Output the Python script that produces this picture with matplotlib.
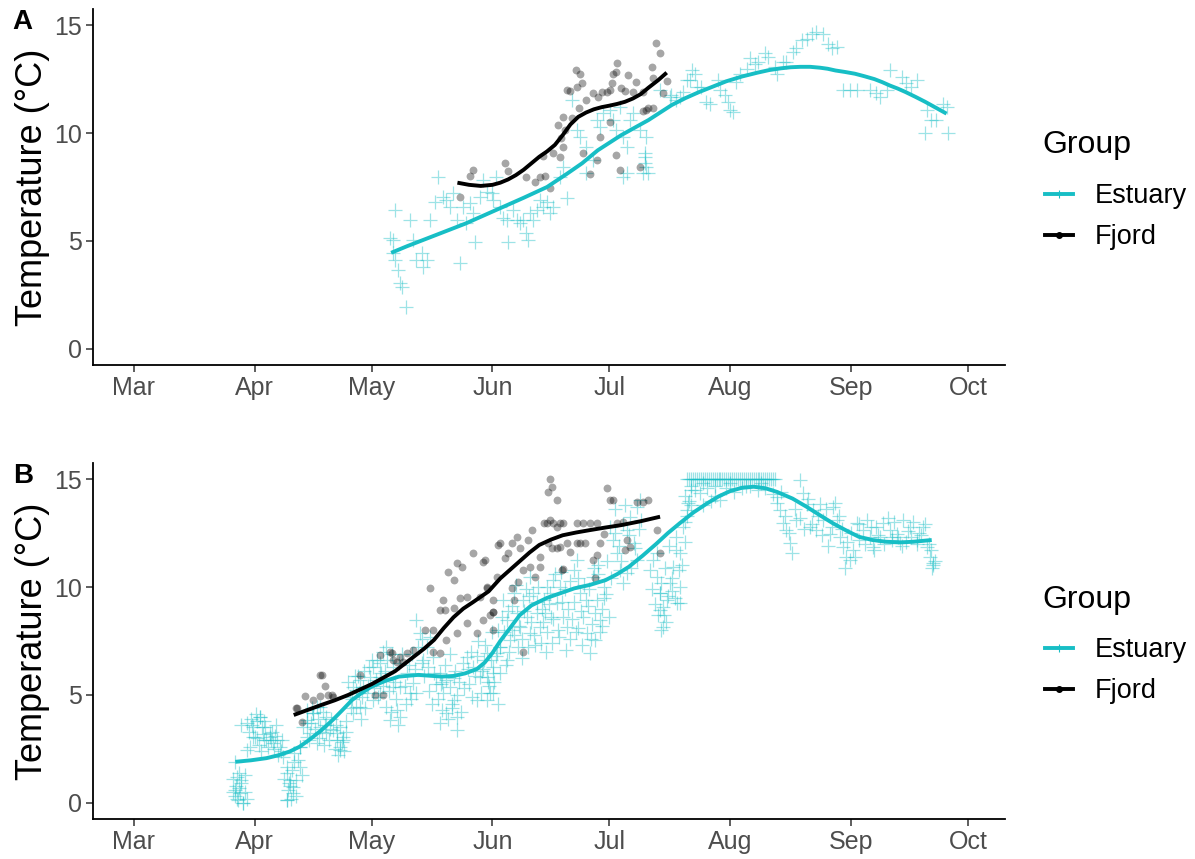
import matplotlib
matplotlib.use("Agg")
import matplotlib.pyplot as plt
from matplotlib.lines import Line2D

plt.rcParams['font.family'] = ['Liberation Sans', 'DejaVu Sans']

# ---------------- data (day of year, temperature °C) ----------------
month_ticks = [60, 91, 121, 152, 182, 213, 244, 274]
month_labels = ["Mar", "Apr", "May", "Jun", "Jul", "Aug", "Sep", "Oct"]
groups = ["Estuary", "Fjord"]

# Panel A - Estuary observations
a_est_day = [125.7, 126.5, 126.5, 126.9, 127.8, 128.2, 128.7, 129.9, 126.9, 130.8, 131.7, 132.5, 133.8, 135.1,
             134.2, 135.9, 137.2, 138.1, 139.4, 140.2, 141.1, 141.9, 143.6, 142.8, 144.5, 146.2, 147.1, 145.3,
             147.5, 148.8, 149.6, 150.5, 151.8, 153.0, 152.2, 153.9, 154.8, 155.6, 156.0, 157.3, 158.2, 159.0,
             159.9, 160.7, 161.2, 161.6, 162.4, 163.3, 164.2, 165.0, 165.9, 166.7, 167.6, 169.3, 170.1, 171.0,
             172.3, 173.6, 174.4, 176.1, 177.8, 176.1, 178.7, 179.6, 180.4, 182.1, 183.0, 183.8, 184.7, 185.5,
             186.4, 187.3, 188.1, 189.8, 191.5, 191.1, 191.5, 190.7, 186.4, 185.5, 195.0, 197.5, 200.1, 202.7,
             203.1, 204.4, 191.1, 191.1, 191.9, 197.9, 199.2, 200.9, 201.8, 203.9, 205.6, 206.9, 207.8, 209.9,
             210.3, 211.6, 212.5, 212.9, 213.8, 214.6, 215.5, 217.2, 218.0, 219.3, 220.2, 221.9, 222.7, 224.4,
             224.9, 226.6, 227.4, 229.2, 230.0, 231.3, 232.6, 233.9, 235.1, 236.8, 238.1, 239.0, 240.3, 242.0,
             243.7, 245.4, 248.8, 250.5, 251.4, 253.1, 254.0, 257.0, 258.2, 259.5, 260.8, 263.4, 264.6, 265.9,
             267.6, 268.5, 262.9, 268.9]
a_est_temp = [5.12, 5.04, 4.43, 4.12, 3.66, 3.04, 2.88, 1.96, 6.43, 5.97, 5.04, 4.12, 4.43, 4.12,
              3.81, 5.97, 6.82, 7.98, 7.05, 6.90, 6.59, 7.21, 3.97, 5.97, 6.59, 6.74, 6.28, 5.82,
              4.97, 7.05, 7.82, 7.28, 7.21, 7.98, 6.90, 6.59, 6.05, 5.97, 4.97, 6.43, 5.97, 5.82,
              5.97, 5.35, 5.04, 6.28, 5.97, 6.43, 6.90, 6.59, 6.82, 6.28, 6.59, 7.98, 8.44, 6.97,
              11.53, 10.14, 9.83, 9.37, 8.75, 8.13, 10.60, 10.29, 10.91, 11.06, 10.60, 10.14, 11.22, 9.83,
              9.37, 10.60, 10.91, 10.14, 9.83, 8.90, 8.44, 8.13, 8.13, 7.98, 11.99, 11.68, 11.68, 12.45,
              12.91, 12.14, 9.06, 8.59, 8.13, 11.76, 11.53, 11.91, 12.45, 12.76, 12.14, 11.45, 11.37, 12.45,
              11.99, 11.76, 11.45, 11.06, 10.99, 12.38, 12.76, 12.99, 13.46, 13.22, 13.30, 13.69, 13.53, 13.07,
              12.76, 13.30, 13.30, 13.76, 13.92, 14.30, 14.38, 14.61, 14.69, 14.61, 14.15, 13.92, 13.99, 11.99,
              11.99, 11.99, 11.99, 11.84, 11.68, 11.99, 12.91, 12.61, 12.30, 12.14, 12.45, 11.06, 10.60, 10.60,
              11.37, 11.22, 9.98, 9.98]

# Panel A - Fjord observations
a_fj_day = [143.6, 146.2, 147.1, 155.2, 156.0, 160.7, 162.9, 164.2, 165.4, 166.7, 165.0, 167.6, 169.3, 170.0,
            168.9, 170.0, 171.0, 172.0, 173.6, 174.4, 173.4, 174.9, 176.1, 177.8, 179.1, 180.0, 181.3, 182.1,
            182.6, 183.0, 183.8, 184.0, 185.1, 186.0, 186.8, 188.1, 188.9, 190.7, 192.8, 193.1, 193.9, 195.0,
            196.8, 191.5, 190.7, 189.8, 183.8, 184.7, 179.6, 177.0, 178.7, 175.3, 174.3, 172.3, 170.6, 169.7,
            182.1, 193.3, 195.8, 192.0]
a_fj_temp = [7.05, 8.01, 8.29, 8.63, 8.25, 7.98, 7.75, 7.98, 8.01, 7.44, 8.93, 9.09, 8.87, 9.37,
             10.37, 10.76, 11.99, 11.96, 12.14, 12.76, 12.91, 12.33, 11.53, 11.84, 11.68, 11.91, 11.91, 11.99,
             12.30, 12.76, 12.84, 13.25, 12.07, 11.96, 12.68, 11.91, 12.38, 11.91, 13.07, 12.53, 14.18, 13.69,
             12.42, 11.09, 11.03, 8.44, 8.98, 8.29, 9.83, 8.10, 8.75, 9.06, 11.14, 10.68, 10.14, 9.75,
             10.52, 11.14, 11.87, 11.14]

# Panel A - smoothed trends
a_est_fit_day = [126, 130, 135, 140, 145, 150, 155, 160, 166, 171, 175, 179, 182, 185, 188.5, 192, 195, 198,
                 201.5, 205, 208.5, 212, 216, 220, 223, 226, 228.5, 231, 233.5, 236, 238, 240, 242.5, 245,
                 247.5, 250, 252, 254, 256, 258, 260.5, 263, 265.5, 268.5]
a_est_fit_temp = [4.45, 4.75, 5.1, 5.45, 5.8, 6.2, 6.6, 7.0, 7.5, 8.1, 8.6, 9.2, 9.55, 9.9, 10.25, 10.6, 10.95,
                  11.3, 11.62, 11.9, 12.15, 12.4, 12.62, 12.8, 12.92, 13.0, 13.05, 13.07, 13.07, 13.03, 12.98,
                  12.9, 12.83, 12.75, 12.63, 12.5, 12.36, 12.2, 12.06, 11.9, 11.68, 11.45, 11.2, 10.9]
a_fj_fit_day = [143, 144.5, 146, 149, 152, 154, 156, 158, 160, 162, 164, 166, 168, 170, 172, 174, 176, 178,
                180, 182, 184, 186, 188, 190, 192, 194.5, 196.7]
a_fj_fit_temp = [7.7, 7.65, 7.6, 7.55, 7.6, 7.7, 7.85, 8.05, 8.3, 8.6, 8.9, 9.15, 9.45, 9.9, 10.4, 10.75,
                 10.95, 11.1, 11.2, 11.27, 11.35, 11.45, 11.6, 11.8, 12.1, 12.45, 12.8]

# Panel B - Estuary observations
b_est_day = [85.5, 86.0, 86.5, 87.0, 87.5, 88.0, 88.5, 86.3, 87.2, 88.1, 86.8, 87.6, 85.9, 88.9, 87.6,
             88.9, 92.3, 93.6, 94.9, 96.6, 90.6, 89.8, 92.3, 92.8, 91.0, 94.0, 95.8, 97.5, 94.9, 91.5,
             99.2, 100.0, 100.9, 99.2, 102.6, 101.7, 99.2, 100.0, 100.9, 99.2, 98.3, 101.0,
             104.3, 106.0, 107.7, 109.4, 105.2, 106.9, 102.6, 103.5, 104.3, 106.0, 107.7, 109.4, 104.3, 102.6, 106.9,
             112.0, 112.9, 113.7, 111.1, 112.0, 112.9, 113.7,
             116.3, 118.0, 119.7, 117.1, 121.4, 120.6, 115.4, 117.1, 118.0, 116.3, 118.8,
             122.3, 124.8, 126.6, 128.3, 127.4, 128.3, 123.1, 121.4, 123.1, 124.8, 126.5, 123.1, 124.8, 125.7,
             130.0, 131.7, 130.8, 132.5, 133.4, 135.1, 136.8, 134.2,
             138.5, 139.4, 140.2, 138.5, 142.0, 142.8, 141.1, 139.0, 141.5, 143.0,
             145.4, 147.1, 148.8, 150.5, 152.2, 147.9, 152.2, 153.9, 146.0, 149.5, 151.0,
             149.7, 150.5, 151.4, 152.2, 153.1, 150.5,
             154.8, 155.6, 157.4, 158.2, 156.5, 159.1, 159.9, 153.9, 155.6, 157.0, 158.5,
             161.6, 162.5, 163.3, 164.2, 165.1, 160.8, 165.9, 161.6, 163.0, 164.8,
             166.8, 168.5, 170.2, 171.0, 167.6, 169.3, 167.0, 169.8,
             172.8, 174.5, 175.3, 176.2, 177.0, 173.6, 174.0, 176.0,
             177.9, 178.7, 179.6, 178.3, 180.5, 179.0, 180.0,
             182.2, 183.0, 183.9, 184.7, 185.6, 186.4, 187.3, 189.0, 188.2, 189.0, 186.4, 189.9, 183.5, 185.0,
             193.3, 194.1, 195.0, 195.0, 195.8, 196.7, 197.6, 198.4, 200.1, 200.1, 201.0, 199.3, 200.1,
             194.9, 195.8, 199.2, 201.8, 194.5, 196.5, 198.0,
             202.5, 203.5, 204.5, 205.5, 206.5, 207.5, 208.5, 209.5, 210.5, 211.5, 212.5, 213.5, 214.5,
             215.5, 216.5, 217.5, 218.5, 219.5, 220.5, 221.5, 222.5, 223.5, 224.5,
             203.0, 205.2, 207.0, 209.0, 210.3, 212.0, 214.0, 216.0, 218.0, 220.0, 222.0, 224.0,
             202.2, 204.0, 206.0, 208.0,
             224.9, 225.7, 226.6, 227.4, 228.3, 230.9, 231.7, 230.0,
             232.6, 234.3, 236.0, 236.9, 233.4, 235.1,
             239.4, 240.3, 241.1, 242.0, 242.8, 243.7, 238.6,
             245.4, 247.1, 248.8, 250.5, 252.2, 253.9, 255.7, 257.4, 259.1, 260.8, 262.5, 263.4, 264.2, 265.1,
             256.5, 249.7, 244.5, 246.0, 251.0, 254.5, 258.0, 261.5,
             86.0, 86.5, 87.0, 88.5, 89.0, 85.5, 89.5, 90.0, 90.5, 91.5, 92.0, 93.0, 93.5, 94.5, 95.5, 96.0,
             97.0, 98.0, 96.5,
             99.5, 100.5, 101.5, 102.0, 103.0, 101.0,
             104.5, 105.5, 106.5, 107.5, 108.5, 109.0, 110.0, 110.5, 111.5, 113.0, 114.0, 114.5,
             115.0, 116.0, 117.5, 118.5, 119.0, 120.0, 121.0, 122.0, 123.5, 124.0, 125.0, 125.5, 126.0, 127.0,
             128.0, 127.8,
             129.5, 130.5, 131.0, 132.0, 133.0, 134.0, 134.5, 135.5, 136.0, 137.0, 137.5, 138.0, 139.0, 140.0,
             140.5, 141.5, 142.5, 143.5, 144.0, 144.5,
             146.5, 147.5, 148.0, 149.0, 150.0, 151.5, 152.5, 153.5, 154.0, 155.0, 156.0, 157.5, 158.0, 159.5,
             160.5, 161.0, 162.0, 163.5, 164.5, 165.5,
             166.0, 167.5, 168.0, 169.0, 170.5, 171.5, 172.0, 173.0, 174.0, 175.0, 176.5, 177.5, 178.0, 179.5,
             180.5, 181.5, 182.5, 183.5, 184.5, 185.5, 186.0, 187.0, 187.5, 188.5, 189.5, 190.0,
             192.5, 193.0, 193.8, 194.3, 195.3, 196.0, 196.2, 197.0, 197.2, 198.0, 198.8, 199.0, 199.8, 200.5,
             201.3, 201.5, 195.2,
             202.0, 203.0, 204.0, 205.0, 206.0, 207.0, 208.0, 209.0, 210.0, 211.0, 212.0, 213.0, 214.0, 215.0,
             216.0, 217.0, 218.0, 219.0, 220.0, 221.0, 222.0, 223.0, 224.0,
             203.0, 206.0, 209.0, 213.0, 217.0, 221.0, 201.5, 202.0, 202.5, 203.0,
             225.0, 226.0, 227.0, 228.0, 228.8, 229.5, 231.0, 232.0, 233.0, 234.0, 235.5, 236.5, 237.5, 238.0,
             239.0, 240.0, 241.0, 241.8, 242.5, 243.0, 244.0, 245.0, 246.0, 247.5, 248.0, 249.0, 250.0, 251.5,
             252.5, 253.5, 254.5, 255.0, 256.0, 257.0, 258.5, 259.5, 260.0, 261.0, 262.0, 263.0, 264.0, 264.5,
             265.5, 265.0, 264.8,
             128.8, 129.8, 131.3, 132.3, 133.8, 135.8, 136.5, 138.8, 139.8, 141.0, 142.0, 143.0, 144.8, 145.8,
             146.8, 148.3, 149.3, 150.8, 151.8, 152.8, 153.3, 154.5, 155.4, 156.3, 157.0, 158.8, 159.7, 160.2,
             161.4, 162.7, 163.8, 164.9, 165.7, 166.5, 167.2, 168.7, 169.6, 170.8, 171.8, 172.5, 173.4, 174.8,
             175.6, 176.8, 177.3, 178.4, 179.2, 180.2, 181.0, 181.8,
             90.2, 91.2, 92.6, 93.3, 95.2, 96.3, 97.8, 98.6, 99.8, 100.3, 104.8, 105.8, 107.2, 108.2, 108.8,
             110.3, 111.8, 112.4, 113.3, 114.3, 115.7, 116.7, 117.8, 118.2, 119.4, 120.3, 121.7, 122.7, 123.8,
             124.4, 126.3, 127.2]
b_est_temp = [1.1, 0.6, 0.2, 1.4, 0.9, 0.0, 0.5, 0.76, 0.45, -0.02, 0.14, 1.07, 1.9, 2.45, 3.6,
              3.69, 4.00, 3.53, 3.07, 2.92, 3.07, 2.61, 3.99, 3.53, 3.07, 2.91, 2.76, 2.60, 3.22, 3.8,
              1.37, 0.76, 0.45, 0.14, 1.68, 1.07, 1.68, 1.06, 0.75, 0.13, 2.14, 2.3,
              3.84, 4.15, 4.46, 4.00, 3.23, 2.76, 2.61, 3.53, 3.68, 4.15, 3.53, 3.22, 3.07, 2.60, 4.46,
              3.23, 2.61, 2.92, 3.38, 2.91, 2.45, 3.07,
              5.39, 5.70, 5.08, 4.46, 4.77, 5.85, 4.92, 5.23, 4.46, 4.15, 5.38,
              6.62, 7.24, 6.31, 5.39, 4.31, 4.00, 5.85, 6.31, 6.46, 5.69, 5.38, 5.07, 4.46, 3.84,
              6.00, 5.54, 5.08, 8.47, 7.86, 7.24, 6.78, 6.62,
              6.00, 5.08, 4.15, 3.69, 4.77, 3.38, 5.39, 5.6, 4.4, 5.0,
              6.78, 6.31, 5.85, 6.93, 6.00, 4.77, 5.08, 7.24, 5.5, 6.2, 5.4,
              6.62, 5.85, 5.08, 6.31, 6.93, 4.77,
              9.40, 8.47, 9.71, 8.78, 7.55, 8.16, 9.40, 7.24, 6.62, 8.0, 7.2,
              10.48, 9.71, 8.78, 8.16, 9.40, 8.63, 10.02, 7.86, 7.3, 9.0,
              9.71, 9.25, 8.63, 8.16, 10.32, 10.02, 8.6, 9.3,
              10.79, 9.71, 8.63, 7.86, 6.93, 11.25, 8.1, 9.4,
              10.48, 9.40, 8.47, 7.55, 10.02, 11.0, 9.0,
              12.79, 12.18, 11.56, 10.79, 10.17, 12.64, 13.26, 13.72, 12.02, 11.25, 10.63, 14.03, 13.6, 11.2,
              11.25, 10.48, 9.71, 8.94, 8.16, 9.40, 10.17, 10.94, 11.56, 10.02, 12.79, 9.25, 9.25,
              9.71, 9.09, 11.71, 13.57, 8.7, 8.4, 9.8,
              15.0, 15.0, 15.0, 15.0, 15.0, 15.0, 15.0, 15.0, 15.0, 15.0, 15.0, 15.0, 15.0,
              15.0, 15.0, 15.0, 15.0, 15.0, 15.0, 15.0, 15.0, 15.0, 15.0,
              14.5, 14.34, 14.6, 14.2, 14.03, 14.6, 14.4, 14.6, 14.7, 14.5, 14.6, 14.3,
              13.9, 14.5, 13.8, 14.0,
              14.18, 13.57, 12.95, 12.64, 12.02, 14.95, 14.34, 13.10,
              13.87, 13.57, 13.87, 13.10, 12.79, 12.64,
              13.72, 13.10, 12.33, 11.87, 11.41, 11.25, 12.48,
              12.95, 12.64, 12.33, 12.79, 12.95, 12.64, 12.48, 13.10, 12.79, 12.18, 12.79, 11.87, 11.41, 11.10,
              12.02, 11.87, 11.71, 12.2, 12.4, 12.3, 12.1, 12.5,
              0.3, 1.2, 0.7, 1.3, 0.2, 0.5, 3.3, 3.9, 3.5, 3.0, 2.7, 3.2, 2.9, 2.6, 3.3, 2.5,
              2.2, 2.9, 3.6,
              0.6, 1.5, 0.3, 2.0, 1.3, 1.9,
              4.3, 3.7, 3.4, 3.0, 4.2, 3.6, 2.9, 3.9, 2.5, 3.5, 2.4, 3.8,
              5.6, 4.8, 5.9, 4.9, 6.1, 5.4, 6.6, 5.7, 6.0, 7.0, 6.6, 5.2, 4.2, 5.6,
              6.5, 3.6,
              5.4, 6.4, 4.8, 6.2, 7.2, 7.6, 5.9, 6.3, 7.7, 6.0, 5.5, 4.8, 4.3, 5.7,
              3.9, 4.6, 6.1, 5.6, 4.2, 6.5,
              7.0, 5.9, 6.8, 5.1, 7.3, 6.6, 5.6, 8.0, 6.0, 7.9, 8.9, 7.8, 10.1, 7.6,
              9.9, 7.2, 8.4, 9.3, 7.4, 8.8,
              7.9, 8.5, 10.6, 7.7, 9.9, 9.0, 7.6, 9.3, 10.4, 7.3, 9.1, 8.3, 10.9, 7.9,
              9.5, 11.2, 10.4, 12.5, 11.9, 12.9, 13.8, 12.4, 10.9, 11.8, 12.7, 13.1,
              10.8, 9.9, 9.2, 11.6, 10.2, 8.7, 10.9, 9.6, 11.9, 10.4, 9.5, 12.3, 10.8, 11.0,
              12.1, 13.0, 8.0,
              15.0, 15.0, 15.0, 15.0, 15.0, 15.0, 15.0, 15.0, 15.0, 15.0, 15.0, 15.0, 15.0, 15.0,
              15.0, 15.0, 15.0, 15.0, 15.0, 15.0, 15.0, 15.0, 15.0,
              14.7, 14.8, 14.7, 14.8, 14.7, 14.8, 14.2, 13.3, 14.0, 13.8,
              13.9, 14.4, 13.3, 12.5, 11.6, 13.6, 13.2, 12.7, 14.1, 12.9, 13.3, 12.4, 13.6, 11.9,
              12.8, 13.9, 13.3, 12.7, 10.9, 12.1, 12.5, 11.4, 12.9, 12.0, 13.1, 12.8, 11.7, 12.3,
              12.0, 13.2, 12.2, 13.0, 12.3, 11.9, 12.6, 12.3, 13.0, 12.0, 12.4, 12.9, 12.0, 11.7,
              11.2, 11.0, 10.9,
              6.9, 4.6, 6.9, 5.1, 6.5, 5.2, 4.6, 5.5, 6.4, 6.9, 5.8, 4.0, 5.3, 6.2,
              4.9, 7.5, 6.1, 5.6, 7.9, 6.8, 4.6, 8.6, 6.4, 7.0, 9.1, 8.2, 6.7, 8.9,
              9.6, 7.8, 10.0, 8.4, 7.0, 9.2, 7.4, 8.0, 10.7, 7.1, 10.3, 8.5, 7.9, 8.9,
              10.1, 9.9, 7.6, 8.8, 10.6, 8.2, 9.7, 8.6,
              3.6, 4.1, 2.4, 3.8, 2.9, 3.1, 2.4, 1.1, 0.9, 0.2, 2.9, 4.4, 3.9, 3.3, 2.7,
              3.4, 3.6, 2.2, 2.8, 3.3, 4.4, 5.9, 5.1, 3.9, 4.4, 6.3, 5.3, 4.9, 5.4,
              6.1, 6.9, 4.8]

# Panel B - Fjord observations
b_fj_day = [107.7, 109.0, 103.9, 106.0, 107.7, 109.9, 111.1, 101.9, 103.0, 118.0, 123.1, 125.7, 126.5, 127.4,
            124.0, 121.8, 101.7, 108.2, 110.7, 126.1, 128.3, 129.1, 130.0, 131.7,
            136.0, 138.5, 139.8, 140.7, 142.0, 142.8, 144.1, 143.7, 145.4, 147.1, 149.6, 150.5, 152.2, 153.1,
            153.5, 152.2, 149.6, 147.9, 145.4, 142.8, 140.2, 136.8, 134.7, 136.8, 138.5, 142.0, 139.4,
            150.1, 148.8, 150.5, 152.2, 152.2, 151.4, 153.9, 155.2, 156.1, 156.9, 158.2, 159.1, 159.9, 161.2,
            162.1, 158.6, 156.9, 157.4, 159.9, 161.6, 162.9, 164.2, 164.2, 165.1, 165.9, 166.8, 167.6, 168.5,
            169.3, 166.3, 166.8, 167.2, 168.5, 170.2, 171.0, 171.9, 169.3, 168.5, 167.2, 166.3, 169.8, 173.6,
            174.5, 175.7, 173.6, 175.3, 177.0, 178.7, 177.9, 178.7, 179.6, 180.5, 181.3, 182.2, 183.0, 183.9,
            185.6, 186.4, 187.3, 186.0, 189.0, 190.7, 192.0, 194.1, 195.0, 178.3, 170.2]
b_fj_temp = [5.92, 5.41, 4.95, 4.76, 4.95, 5.00, 4.92, 4.38, 3.76, 5.92, 6.85, 7.00, 6.62, 6.54,
             5.00, 5.00, 4.38, 5.93, 5.00, 6.96, 6.78, 6.54, 6.93, 7.08,
             9.94, 8.94, 8.94, 10.71, 10.32, 11.10, 10.94, 9.48, 9.55, 11.56, 11.17, 10.02, 9.40, 10.48,
             11.95, 8.86, 8.47, 7.86, 8.32, 7.86, 7.55, 8.01, 8.01, 7.01, 6.93, 9.01, 9.40,
             11.25, 9.55, 9.94, 8.86, 8.01, 8.70, 12.02, 11.33, 11.56, 12.02, 12.33, 11.79, 10.79, 12.18,
             12.64, 10.25, 9.94, 9.40, 7.01, 10.94, 10.48, 10.94, 11.41, 12.95, 12.95, 13.10, 12.95, 12.79,
             12.95, 14.41, 15.03, 14.65, 14.03, 12.95, 12.02, 11.64, 11.87, 11.79, 11.79, 12.02, 10.79, 12.02,
             12.02, 12.02, 12.95, 12.95, 12.95, 12.95, 11.25, 11.48, 12.02, 12.48, 14.57, 14.03, 14.03, 12.95,
             13.03, 12.18, 11.87, 11.71, 13.95, 13.95, 14.03, 12.64, 11.56, 10.40, 10.86]

# Panel B - smoothed trends
b_est_fit_day = [86, 90, 94, 97, 100, 102.5, 105, 108, 111, 113.5, 116, 118.5, 121, 124.5, 128, 133, 139,
                 142, 145, 148, 150, 152, 154, 156.5, 159, 162, 166, 170, 173, 177, 181, 184, 187, 190.5,
                 194, 197, 200, 203.5, 207, 210, 213, 216, 219, 222, 225, 229, 232.6, 236, 239.4, 243, 246,
                 249.5, 253, 256.5, 260, 264.7]
b_est_fit_temp = [1.9, 1.97, 2.07, 2.2, 2.38, 2.6, 2.92, 3.35, 3.84, 4.3, 4.77, 5.1, 5.39, 5.65, 5.85, 5.93,
                  5.85, 5.88, 6.0, 6.2, 6.5, 6.95, 7.5, 8.1, 8.7, 9.15, 9.5, 9.75, 9.94, 10.1, 10.32, 10.6,
                  10.94, 11.45, 12.0, 12.5, 12.95, 13.45, 13.87, 14.2, 14.45, 14.6, 14.65, 14.58, 14.41, 14.1,
                  13.72, 13.33, 12.95, 12.6, 12.33, 12.18, 12.1, 12.07, 12.1, 12.18]
b_fj_fit_day = [101, 104.5, 108, 111.5, 115, 118, 121, 124, 127, 129.5, 132, 134.5, 137, 139.5, 142, 144.5,
                147, 149, 151, 152.5, 154, 156.5, 159, 161.5, 164, 167, 170, 173.5, 177, 181, 185, 190, 195]
b_fj_fit_temp = [4.07, 4.3, 4.53, 4.75, 5.0, 5.25, 5.5, 5.8, 6.1, 6.45, 6.8, 7.15, 7.55, 8.1, 8.6, 9.0,
                 9.3, 9.55, 9.8, 10.1, 10.4, 10.8, 11.2, 11.6, 11.95, 12.2, 12.4, 12.53, 12.64, 12.76, 12.87,
                 13.05, 13.26]

EST_COLOR = "#17BEC5"
FJ_COLOR = "black"
W, H = 1195, 859

fig = plt.figure(figsize=(W / 100, H / 100), dpi=100)
ax_a = fig.add_axes([93 / W, (H - 365) / H, 912 / W, 356 / H])
ax_b = fig.add_axes([93 / W, (H - 819) / H, 912 / W, 356 / H])

panels = [
    (ax_a, "A", 145, a_est_day, a_est_temp, a_fj_day, a_fj_temp, a_est_fit_day, a_est_fit_temp, a_fj_fit_day, a_fj_fit_temp),
    (ax_b, "B", 600, b_est_day, b_est_temp, b_fj_day, b_fj_temp, b_est_fit_day, b_est_fit_temp, b_fj_fit_day, b_fj_fit_temp),
]

for ax, tag, title_y, ed, et, fd, ft, efd, eft, ffd, fft in panels:
    ax.scatter(ed, et, marker="+", s=90, linewidths=0.9, color=EST_COLOR, alpha=0.42, zorder=2)
    ax.scatter(fd, ft, marker="o", s=32, linewidths=0, color=FJ_COLOR, alpha=0.35, zorder=3)
    ax.plot(efd, eft, color=EST_COLOR, lw=2.8, zorder=4, solid_capstyle="butt", solid_joinstyle="round")
    ax.plot(ffd, fft, color=FJ_COLOR, lw=2.8, zorder=5, solid_capstyle="butt", solid_joinstyle="round")

    ax.set_xlim(49.5, 283.5)
    ax.set_ylim(-0.75, 15.75)
    ax.set_xticks(month_ticks)
    ax.set_xticklabels(month_labels)
    ax.set_yticks([0, 5, 10, 15])
    ax.set_yticklabels(["0", "5", "10", "15"])
    for s in ["top", "right"]:
        ax.spines[s].set_visible(False)
    for s in ["left", "bottom"]:
        ax.spines[s].set_linewidth(1.3)
        ax.spines[s].set_color("black")
    ax.tick_params(axis="both", direction="out", length=5, width=1.1, color="#333333",
                   labelcolor="#4D4D4D", labelsize=18, pad=3)
    ax.set_ylabel("Temperature (°C)", fontsize=26, color="black", labelpad=3)
    ax.text(-0.088, 1.0, tag, transform=ax.transAxes, fontsize=20, fontweight="bold",
            ha="left", va="top")

    # legend
    fig.text(1042 / W, 1 - title_y / H, "Group", fontsize=23, ha="left", va="center")
    handles = [
        Line2D([0], [0], color=EST_COLOR, lw=2.8, marker="+", markersize=6, markeredgewidth=0.8),
        Line2D([0], [0], color=FJ_COLOR, lw=2.8, marker="o", markersize=4),
    ]
    leg = ax.legend(handles, groups, loc="upper left",
                    bbox_to_anchor=((1045 - 93) / 912, 0.51), frameon=False, fontsize=19.5,
                    handlelength=1.05, handletextpad=0.8, labelspacing=0.55,
                    borderpad=0, borderaxespad=0)

fig.savefig("out.png", dpi=100, facecolor="white")
